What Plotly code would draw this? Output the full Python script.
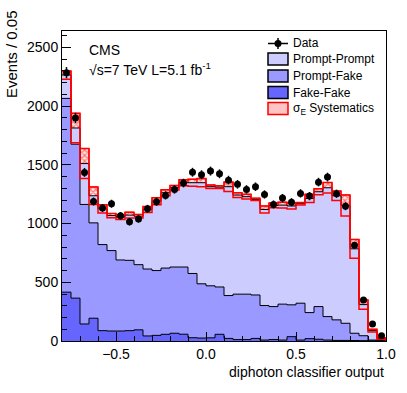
import numpy as np
import plotly.graph_objects as go

# binning of the classifier output
x_lo, x_hi, bin_w = -0.8, 1.0, 0.05

# event counts per bin
data_counts = [2285, 1900, 1436, 1188, 1132, 1169, 1066, 1015, 1040, 1126, 1186, 1240,
               1291, 1345, 1437, 1416, 1447, 1424, 1370, 1334, 1291, 1314, 1248, 1163,
               1217, 1182, 1257, 1234, 1353, 1396, 1254, 1148, 815, 350, 145, 45]
prompt_prompt = [199, 138, 348, 231, 304, 298, 365, 385, 413, 507, 591, 642,
                 675, 718, 773, 861, 844, 850, 927, 844, 830, 814, 818, 862,
                 843, 842, 847, 972, 978, 1097, 1057, 1003, 719, 265, 80, 17]
prompt_fake = [1650, 1311, 1018, 812, 733, 685, 605, 599, 555, 570, 552, 564,
               564, 572, 547, 462, 443, 403, 365, 387, 387, 370, 294, 281,
               306, 271, 314, 222, 278, 200, 175, 146, 62, 42, 6, 2]
fake_fake = [416, 365, 145, 194, 88, 85, 85, 88, 95, 43, 48, 57,
             66, 58, 28, 25, 27, 57, 22, 12, 12, 22, 8, 12,
             8, 37, 8, 20, 15, 8, 5, 5, 4, 3, 2, 1]
syst_err = [35, 125, 128, 75, 35, 18, 20, 25, 15, 25, 30, 25,
            20, 25, 30, 35, 15, 12, 40, 20, 20, 10, 30, 20,
            25, 25, 10, 35, 25, 45, 40, 90, 80, 40, 12, 5]

n_bins = len(data_counts)
edges = np.round(x_lo + bin_w * np.arange(n_bins + 1), 3)
centers = edges[:-1] + bin_w / 2

ff = np.array(fake_fake, float)
pf_cum = ff + np.array(prompt_fake, float)
total = pf_cum + np.array(prompt_prompt, float)
err = np.array(syst_err, float)
data = np.array(data_counts, float)


def step(vals):
    return list(vals) + [vals[-1]]


FONT = "Liberation Sans, Arial, sans-serif"
fig = go.Figure()

# stacked backgrounds, drawn back to front
for cum, col in [(total, "#ccccff"), (pf_cum, "#9999ff"), (ff, "#6666ff")]:
    fig.add_trace(go.Scatter(x=edges, y=step(cum), mode="lines", line_shape="hv",
                             line=dict(color="black", width=1), fill="tozeroy",
                             fillcolor=col, showlegend=False, hoverinfo="skip"))

# sigma_E systematics band
fig.add_trace(go.Bar(x=centers, y=2 * err, base=total - err, width=bin_w,
                     marker=dict(color="rgba(255,200,200,0.45)",
                                 line=dict(color="red", width=1),
                                 pattern=dict(shape="x", fgcolor="red", size=4,
                                              solidity=0.5, fillmode="overlay")),
                     showlegend=False, hoverinfo="skip"))
fig.add_trace(go.Scatter(x=edges, y=step(total + err), mode="lines", line_shape="hv",
                         line=dict(color="red", width=1.5), showlegend=False, hoverinfo="skip"))
fig.add_trace(go.Scatter(x=list(edges) + [x_hi], y=step(total - err) + [0], mode="lines",
                         line_shape="hv", line=dict(color="red", width=1.5),
                         showlegend=False, hoverinfo="skip"))

# data
fig.add_trace(go.Scatter(x=centers, y=data, mode="markers",
                         marker=dict(color="black", size=7),
                         error_y=dict(type="data", array=np.sqrt(data), color="black",
                                      thickness=1.5, width=0),
                         showlegend=False))

# --- layout, in pixels of the 407x393 canvas ---
W, H = 407, 393
L, R, T, B = 62, 21, 31, 52


def px(x):
    return (x - L) / (W - L - R)


def py(y):
    return (H - B - y) / (H - T - B)


shapes = []
annots = []
# legend
sx0, sx1 = px(268), px(288)
shapes.append(dict(type="line", xref="paper", yref="paper", x0=sx0, x1=sx1,
                   y0=py(43.5), y1=py(43.5), line=dict(color="black", width=1.5)))
shapes.append(dict(type="line", xref="paper", yref="paper", x0=px(278), x1=px(278),
                   y0=py(38), y1=py(49), line=dict(color="black", width=1.5)))
shapes.append(dict(type="circle", xref="paper", yref="paper", x0=px(274.5), x1=px(281.5),
                   y0=py(47), y1=py(40), fillcolor="black", line=dict(width=0)))
boxes = [(59, "#ccccff", "black"), (76, "#9999ff", "black"), (92.5, "#6666ff", "black"),
         (108.5, "rgba(255,140,140,0.5)", "red")]
for yc, fc, lc in boxes:
    shapes.append(dict(type="rect", xref="paper", yref="paper", x0=sx0, x1=sx1,
                       y0=py(yc + 6), y1=py(yc - 6), fillcolor=fc,
                       line=dict(color=lc, width=1.5)))
labels = [(43.5, "Data"), (59, "Prompt-Prompt"), (76, "Prompt-Fake"),
          (92.5, "Fake-Fake"), (108.5, "σ<sub>E</sub> Systematics")]
for yc, txt in labels:
    annots.append(dict(xref="paper", yref="paper", x=px(291), y=py(yc), text=txt,
                       showarrow=False, xanchor="left", yanchor="middle",
                       font=dict(size=12, color="black", family=FONT)))

annots += [
    dict(xref="paper", yref="paper", x=px(87), y=py(50), text="CMS", showarrow=False,
         xanchor="left", yanchor="middle", font=dict(size=14, color="black", family=FONT)),
    dict(xref="paper", yref="paper", x=px(87), y=py(69),
         text="√s=7 TeV L=5.1 fb<sup>-1</sup>", showarrow=False,
         xanchor="left", yanchor="middle", font=dict(size=14, color="black", family=FONT)),
    dict(xref="paper", yref="paper", x=1.0, y=py(372), text="diphoton classifier output",
         showarrow=False, xanchor="right", yanchor="middle",
         font=dict(size=14, color="black", family=FONT)),
    dict(xref="paper", yref="paper", x=px(12), y=py(8), text="Events / 0.05",
         textangle=-90, showarrow=False, xanchor="center", yanchor="top",
         font=dict(size=15, color="black", family=FONT)),
]

fig.update_layout(
    width=W, height=H, margin=dict(l=L, r=R, t=T, b=B),
    paper_bgcolor="white", plot_bgcolor="white", barmode="overlay",
    font=dict(family=FONT, size=14, color="black"),
    shapes=shapes, annotations=annots, showlegend=False,
)
fig.update_xaxes(range=[x_lo, x_hi], tick0=0, dtick=0.5, tickformat=".1f",
                 ticks="inside", ticklen=9, tickcolor="black",
                 minor=dict(dtick=0.1, ticks="inside", ticklen=5, tickcolor="black"),
                 showline=True, linecolor="black", linewidth=1, mirror=True,
                 showgrid=False, zeroline=False)
fig.update_yaxes(range=[0, 2640], dtick=500, ticks="inside", ticklen=9, tickcolor="black",
                 minor=dict(dtick=100, ticks="inside", ticklen=5, tickcolor="black"),
                 showline=True, linecolor="black", linewidth=1, mirror=True,
                 showgrid=False, zeroline=False)

# page body has a default 8px margin; remove it so the canvas sits at the window origin
fig.write_html("out.html", config={"displayModeBar": False},
               post_script="document.body.style.margin='0';")
